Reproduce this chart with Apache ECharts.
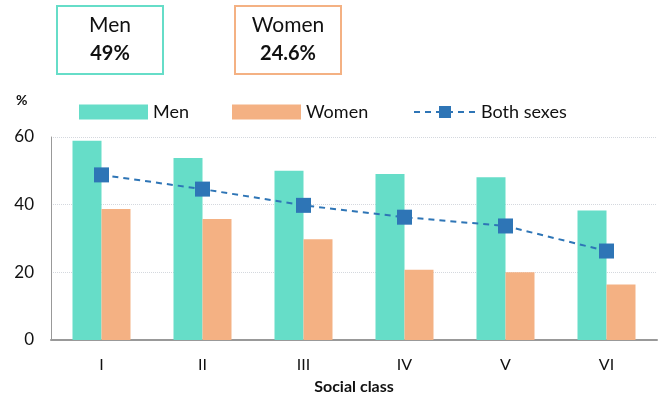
<!DOCTYPE html>
<html><head><meta charset="utf-8">
<script src="https://cdn.jsdelivr.net/npm/echarts@6/dist/echarts.min.js"></script>
<style>html,body{margin:0;padding:0;background:#fff}#c{width:663px;height:396px}</style>
</head><body><div id="c"></div>
<script>
const categories = ['I','II','III','IV','V','VI'];
const men = [58.9, 53.8, 50.0, 49.1, 48.1, 38.3];
const women = [38.7, 35.8, 29.8, 20.8, 20.0, 16.4];
const both = [48.8, 44.6, 39.8, 36.3, 33.7, 26.3];
const yTicks = [0, 20, 40, 60];
const summaryLabels = ['Men', 'Women'];
const summaryValues = ['49%', '24.6%'];

const FONT = 'Lato, "Open Sans", sans-serif';
const cMen = '#66DDC8', cWomen = '#F4B183', cBoth = '#2E75B6';

const chart = echarts.init(document.getElementById('c'));
function box(x, color, i) {
  return [
    {type:'rect', shape:{x:x, y:6, width:106, height:68}, style:{fill:'#fff', stroke:color, lineWidth:2}},
    {type:'text', style:{x:x+53, y:25, text:summaryLabels[i], font:'21px '+FONT, fill:'#111', align:'center', verticalAlign:'middle'}},
    {type:'text', style:{x:x+53, y:54, text:summaryValues[i], font:'bold 20px '+FONT, fill:'#111', align:'center', verticalAlign:'middle'}}
  ];
}
chart.setOption({
  animation:false,
  textStyle:{fontFamily:FONT},
  graphic: [
    ...box(57, cMen, 0), ...box(235, cWomen, 1),
    {type:'text', style:{x:16, y:93, text:'%', font:'bold 14px '+FONT, fill:'#111'}}
  ],
  legend: [
    {data:['Men'], left:74, top:98, itemWidth:69, itemHeight:15, icon:'rect', textStyle:{fontSize:18, color:'#111', fontFamily:FONT}},
    {data:['Women'], left:227, top:98, itemWidth:69, itemHeight:15, icon:'rect', textStyle:{fontSize:18, color:'#111', fontFamily:FONT}},
    {data:['Both sexes'], left:408, top:98, itemWidth:62, itemHeight:15, textStyle:{fontSize:18, color:'#111', fontFamily:FONT}}
  ],
  grid:{left:51, right:6, top:137, bottom:56, containLabel:false, outerBoundsMode:'none'},
  xAxis:{
    type:'category', data:categories,
    axisLine:{lineStyle:{color:'#999', width:2}},
    axisTick:{show:false},
    axisLabel:{fontSize:16, color:'#111', margin:17, fontFamily:FONT},
    name:'Social class', nameLocation:'middle', nameGap:39,
    nameTextStyle:{fontSize:16, fontWeight:'bold', color:'#111', fontFamily:FONT}
  },
  yAxis:{
    type:'value', min:yTicks[0], max:yTicks[yTicks.length-1], interval:20,
    axisLine:{show:true, lineStyle:{color:'#999', width:1}},
    axisTick:{show:false},
    axisLabel:{fontSize:17, color:'#111', margin:17, fontFamily:FONT},
    splitLine:{lineStyle:{color:'#d4d8de', type:'dotted', width:1}}
  },
  series:[
    {name:'Men', type:'bar', data:men, barWidth:29, barGap:'0%', itemStyle:{color:cMen}},
    {name:'Women', type:'bar', data:women, barWidth:29, itemStyle:{color:cWomen}},
    {name:'Both sexes', type:'line', data:both, symbol:'rect', symbolSize:15,
     itemStyle:{color:cBoth}, lineStyle:{color:cBoth, type:[6,5], width:2}, z:5}
  ]
});
</script></body></html>
